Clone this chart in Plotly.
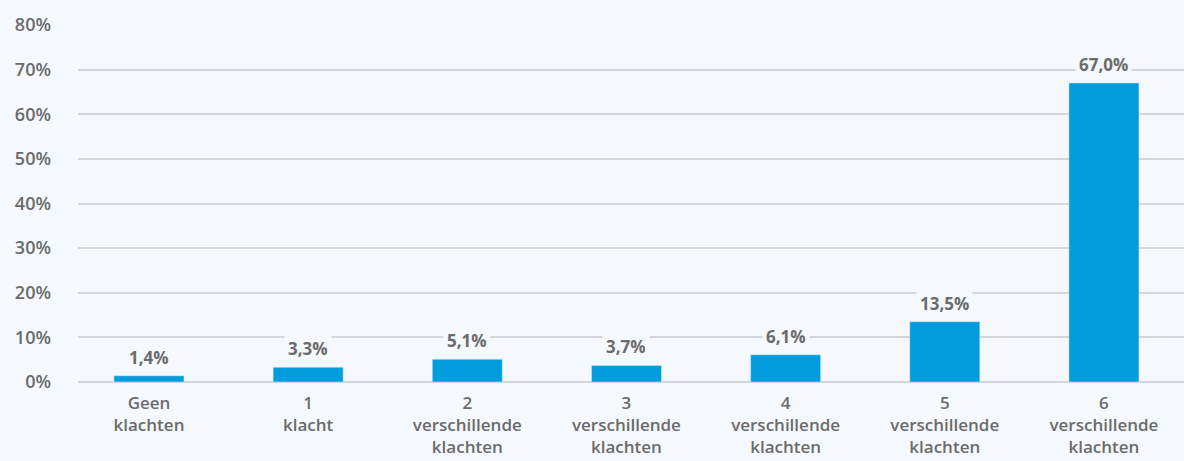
import plotly.graph_objects as go

categories = ["Geen<br>klachten", "1<br>klacht", "2<br>verschillende<br>klachten",
              "3<br>verschillende<br>klachten", "4<br>verschillende<br>klachten",
              "5<br>verschillende<br>klachten", "6<br>verschillende<br>klachten"]
values = [1.4, 3.3, 5.1, 3.7, 6.1, 13.5, 67.0]
value_labels = ["1,4%", "3,3%", "5,1%", "3,7%", "6,1%", "13,5%", "67,0%"]
tick_vals = [0, 10, 20, 30, 40, 50, 60, 70, 80]
tick_text = ["0%", "10%", "20%", "30%", "40%", "50%", "60%", "70%", "80%"]

BG = "#f5f8fd"
TXT = "#6b6b6b"
FONT = "Open Sans"

xs = list(range(len(categories)))
fig = go.Figure(go.Bar(x=xs, y=values, marker_color="#009cde", width=0.44,
                       hoverinfo="skip"))

for x, v, t in zip(xs, values, value_labels):
    fig.add_annotation(x=x, y=v, text=f"<b>{t}</b>", showarrow=False,
                       yanchor="bottom", yshift=3, bgcolor=BG, borderpad=3,
                       font=dict(family=FONT, size=17, color=TXT))

fig.update_layout(
    width=1184, height=461,
    margin=dict(l=78, r=0, t=25, b=79, autoexpand=False),
    paper_bgcolor=BG, plot_bgcolor=BG,
    showlegend=False,
    font=dict(family=FONT, color=TXT),
    xaxis=dict(range=[-0.446, 6.503], tickmode="array", tickvals=xs,
               ticktext=categories, showgrid=False, zeroline=False,
               ticklabelstandoff=9, automargin=False,
               tickfont=dict(family=FONT, size=17, color=TXT, weight=600), ticks=""),
    yaxis=dict(range=[0, 80], tickmode="array", tickvals=tick_vals,
               ticktext=tick_text, showgrid=True, gridcolor="#d3d6db",
               gridwidth=1.5, zeroline=True, zerolinecolor="#d3d6db",
               zerolinewidth=1.5, ticks="", ticklabelstandoff=26, automargin=False,
               tickfont=dict(family=FONT, size=18, color=TXT, weight=600)),
)

fig.write_html("out.html", config={"displayModeBar": False},
               post_script="document.body.style.margin='0';")
